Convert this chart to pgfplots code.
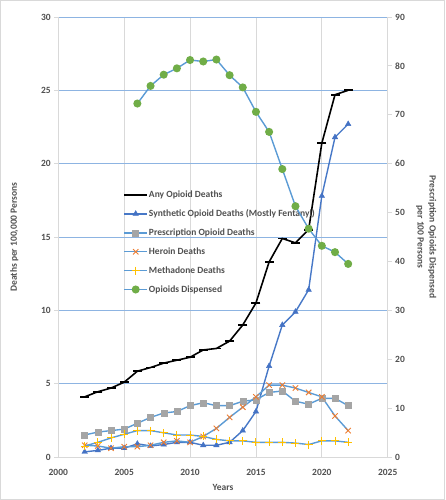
\documentclass[border=0pt]{standalone}
\usepackage{pgfplots}
\pgfplotsset{compat=1.18}
\usepackage{fontspec}
\setmainfont{Carlito}
\definecolor{lineblue}{HTML}{5B9BD5}
\definecolor{synblue}{HTML}{4472C4}
\definecolor{mgray}{HTML}{A5A5A5}
\definecolor{morange}{HTML}{ED7D31}
\definecolor{myellow}{HTML}{FFC000}
\definecolor{mgreen}{HTML}{70AD47}
\definecolor{txtgray}{HTML}{505050}
\definecolor{gridblue}{HTML}{8DB4E2}
\definecolor{gridgray}{HTML}{D9D9D9}
\begin{document}
\begin{tikzpicture}[x=1pt,y=1pt]
\useasboundingbox (0,0) rectangle (445,500);
\draw[gridgray,line width=0.8pt] (0.5,0.5) rectangle (444.5,499.5);
\begin{axis}[
  at={(58.3pt,43pt)}, anchor=south west,
  scale only axis, width=329.4pt, height=440pt,
  xmin=2000, xmax=2025, ymin=0, ymax=30,
  xtick={2000,2005,...,2025}, ytick={0,5,...,30},
  /pgf/number format/assume math mode=true,
  xticklabel style={/pgf/number format/set thousands separator={}, yshift=-5pt},
  ticklabel style={font=\fontsize{9.5}{11}\selectfont\bfseries, text=txtgray},
  axis x line*=bottom, axis y line*=left,
  axis line style={gridgray, line width=0.8pt, -},
  tick align=outside,
  major tick length=4pt,
  major tick style={gridgray, line width=0.8pt},
  xtick style={draw=none},
  ymajorgrids, xmajorgrids,
  y grid style={gridblue, line width=0.9pt},
  x grid style={gridgray, line width=0.7pt},
  xlabel={Years},
  ylabel={Deaths per 100,000 Persons},
  label style={font=\fontsize{9.5}{11}\selectfont\bfseries, text=txtgray},
  xlabel style={at={(rel axis cs:0.5,0)}, anchor=center, yshift=-30pt},
  ylabel style={at={(rel axis cs:0,0.5)}, anchor=center, yshift=44pt},
  legend style={at={(rel axis cs:0.197,0.608)}, anchor=north west, draw=none, fill=none,
    font=\fontsize{9.5}{11}\selectfont\bfseries, text=txtgray,
    row sep=8.7pt, inner sep=0pt,
    nodes={inner sep=1pt}},
  legend cell align=left,
  legend image code/.code={\draw[mark repeat=2,mark phase=2,#1] plot coordinates {(0pt,0pt) (11.5pt,0pt) (23pt,0pt)};},
  clip=false,
]
\addplot[black, line width=1.6pt, mark=-, mark size=4.5pt, mark options={line width=1.8pt}] coordinates {
(2002,4.1)(2003,4.45)(2004,4.7)(2005,5.1)(2006,5.85)(2007,6.1)(2008,6.4)(2009,6.6)(2010,6.8)(2011,7.3)(2012,7.4)(2013,7.9)(2014,9.0)(2015,10.5)(2016,13.3)(2017,14.9)(2018,14.6)(2019,15.5)(2020,21.4)(2021,24.7)(2022,25.0)};
\addlegendentry{Any Opioid Deaths}
\addplot[synblue!85!lineblue, line width=1.4pt, mark=triangle*, mark size=3.2pt, mark options={fill=synblue, draw=synblue, line width=0.4pt}] coordinates {
(2002,0.35)(2003,0.45)(2004,0.6)(2005,0.6)(2006,0.9)(2007,0.75)(2008,0.85)(2009,1.0)(2010,1.0)(2011,0.8)(2012,0.8)(2013,1.0)(2014,1.8)(2015,3.1)(2016,6.2)(2017,9.0)(2018,9.9)(2019,11.4)(2020,17.8)(2021,21.8)(2022,22.7)};
\addlegendentry{Synthetic Opioid Deaths (Mostly Fentanyl)}
\addplot[lineblue, line width=1.4pt, mark=square*, mark size=3pt, mark options={fill=mgray, draw=mgray, line width=0.4pt}] coordinates {
(2002,1.5)(2003,1.7)(2004,1.8)(2005,1.9)(2006,2.3)(2007,2.7)(2008,3.0)(2009,3.1)(2010,3.5)(2011,3.7)(2012,3.5)(2013,3.5)(2014,3.8)(2015,3.9)(2016,4.4)(2017,4.5)(2018,3.8)(2019,3.6)(2020,4.0)(2021,4.0)(2022,3.5)};
\addlegendentry{Prescription Opioid Deaths}
\addplot[lineblue, line width=1.4pt, mark=x, mark size=3.8pt, mark options={draw=morange, line width=0.9pt}] coordinates {
(2002,0.8)(2003,0.75)(2004,0.6)(2005,0.7)(2006,0.7)(2007,0.8)(2008,1.0)(2009,1.1)(2010,1.0)(2011,1.4)(2012,1.95)(2013,2.7)(2014,3.4)(2015,4.1)(2016,4.9)(2017,4.9)(2018,4.7)(2019,4.4)(2020,4.1)(2021,2.8)(2022,1.8)};
\addlegendentry{Heroin Deaths}
\addplot[lineblue, line width=1.4pt, mark=+, mark size=4pt, mark options={draw=myellow, line width=0.9pt}] coordinates {
(2002,0.75)(2003,1.0)(2004,1.3)(2005,1.55)(2006,1.8)(2007,1.8)(2008,1.65)(2009,1.5)(2010,1.5)(2011,1.4)(2012,1.2)(2013,1.1)(2014,1.1)(2015,1.0)(2016,1.0)(2017,1.0)(2018,0.95)(2019,0.85)(2020,1.1)(2021,1.1)(2022,1.0)};
\addlegendentry{Methadone Deaths}
\addlegendimage{lineblue, line width=1.4pt, mark=*, mark size=3.3pt, mark options={fill=mgreen, draw=mgreen}}
\addlegendentry{Opioids Dispensed}
\end{axis}
\begin{axis}[
  at={(58.3pt,43pt)}, anchor=south west,
  scale only axis, width=329.4pt, height=440pt,
  xmin=2000, xmax=2025, ymin=0, ymax=90,
  ytick={0,10,...,90},
  axis x line=none, axis y line*=right,
  /pgf/number format/assume math mode=true,
  ticklabel style={font=\fontsize{9.5}{11}\selectfont\bfseries, text=txtgray},
  axis line style={gridgray, line width=0.8pt, -},
  tick align=outside,
  major tick length=4pt,
  major tick style={gridgray, line width=0.8pt},
  ylabel={Prescription Opioids Dispensed\\per 100 Persons},
  ylabel style={at={(rel axis cs:1,0.5)}, anchor=center, rotate=180, yshift=38.5pt, align=center,
    font=\fontsize{9.5}{12}\selectfont\bfseries, text=txtgray},
  clip=false,
]
\addplot[lineblue, line width=1.4pt, mark=*, mark size=3.3pt, mark options={fill=mgreen, draw=mgreen}] coordinates {
(2006,72.3)(2007,75.9)(2008,78.2)(2009,79.5)(2010,81.2)(2011,80.9)(2012,81.3)(2013,78.1)(2014,75.6)(2015,70.6)(2016,66.5)(2017,58.9)(2018,51.3)(2019,46.7)(2020,43.2)(2021,41.9)(2022,39.5)};
\end{axis}
\end{tikzpicture}
\end{document}
